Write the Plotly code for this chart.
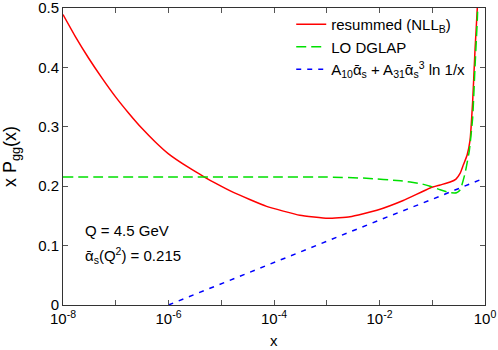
import plotly.graph_objects as go

# log10(x) positions and values
red_logx = [-8, -7.76, -7.51, -7.26, -7, -6.75, -6.5, -6.25, -6, -5.62, -5.31, -5.12,
            -4.77, -4.14, -3.51, -2.98, -2.56, -2.05, -1.55, -1.04, -0.85, -0.66, -0.55,
            -0.47, -0.41, -0.34, -0.284, -0.233, -0.19, -0.146, -0.12]
red_y = [0.489, 0.451, 0.415, 0.382, 0.350, 0.3225, 0.297, 0.2745, 0.2545, 0.2315, 0.215, 0.2055,
         0.1895, 0.166, 0.151, 0.146, 0.1485, 0.1595, 0.176, 0.197, 0.202, 0.207, 0.212,
         0.222, 0.236, 0.252, 0.277, 0.344, 0.428, 0.500, 0.56]

green_logx = [-8, -6, -4, -3, -2.25, -1.6, -1.23, -1.04, -0.85, -0.66, -0.54, -0.47,
              -0.38, -0.297, -0.233, -0.19, -0.146, -0.12]
green_y = [0.2156, 0.2156, 0.2156, 0.2155, 0.2134, 0.209, 0.2045, 0.200, 0.194, 0.189, 0.189,
           0.194, 0.221, 0.260, 0.316, 0.400, 0.480, 0.55]

blue_logx = [-6, -5, -4, -3, -2, -1, 0]
blue_y = [0.0, 0.036, 0.071, 0.107, 0.143, 0.178, 0.214]

xtick_vals = [1e-8, 1e-6, 1e-4, 1e-2, 1]
xtick_text = ['10<sup>-8</sup>', '10<sup>-6</sup>', '10<sup>-4</sup>', '10<sup>-2</sup>', '10<sup>0</sup>']
xminor_vals = [1e-7, 1e-5, 1e-3, 1e-1]
ytick_vals = [0, 0.1, 0.2, 0.3, 0.4, 0.5]

ab = '\u1fb1'  # alpha with macron

fig = go.Figure()
fig.add_trace(go.Scatter(x=[10 ** v for v in red_logx], y=red_y, mode='lines',
                         name='resummed (NLL<sub>B</sub>)',
                         line=dict(color='#ff0000', width=1.5, shape='spline', smoothing=0.4)))
fig.add_trace(go.Scatter(x=[10 ** v for v in green_logx], y=green_y, mode='lines',
                         name='LO DGLAP',
                         line=dict(color='#00e000', width=1.5, dash='10px,5px',
                                   shape='spline', smoothing=0.4)))
fig.add_trace(go.Scatter(x=[10 ** v for v in blue_logx], y=blue_y, mode='lines',
                         name='A<sub>10</sub>' + ab + '<sub>s</sub> + A<sub>31</sub>' + ab
                              + '<sub>s</sub><sup>3</sup> ln 1/x',
                         line=dict(color='#0000ff', width=1.5, dash='5px,6px')))

axis_common = dict(showline=True, linecolor='#333333', linewidth=1, mirror='ticks',
                   ticks='inside', ticklen=5, tickcolor='#555555', showgrid=False,
                   zeroline=False, ticklabeloverflow='allow', automargin=False)

fig.update_layout(
    width=498, height=350,
    margin=dict(l=63, r=13, t=8, b=45, autoexpand=False),
    paper_bgcolor='white', plot_bgcolor='white',
    font=dict(family='Liberation Sans, Arial, sans-serif', size=15, color='black'),
    xaxis=dict(type='log', range=[-8, 0], tickvals=xtick_vals, ticktext=xtick_text,
               minor=dict(tickvals=xminor_vals, ticks='inside', ticklen=5, tickcolor='#555555'),
               **axis_common),
    yaxis=dict(range=[0, 0.5], tickvals=ytick_vals,
               title=dict(text='x P<sub>gg</sub>(x)', standoff=28),
               **axis_common),
    legend=dict(x=0.965, y=1.0, xanchor='right', yanchor='top',
                bgcolor='rgba(0,0,0,0)', tracegroupgap=0),
    annotations=[
        dict(xref='paper', yref='paper', x=0.5, y=-0.12, xanchor='center', yanchor='middle',
             text='x', showarrow=False),
        dict(xref='paper', yref='paper', x=0.048, y=0.252, xanchor='left', yanchor='middle',
             text='Q = 4.5 GeV', showarrow=False),
        dict(xref='paper', yref='paper', x=0.048, y=0.168, xanchor='left', yanchor='middle',
             text=ab + '<sub>s</sub>(Q<sup>2</sup>) = 0.215', showarrow=False),
    ],
)

# the page body has a default 8px margin; drop it so the figure sits at the window corner
fig.write_html("out.html", config={'displayModeBar': False},
               post_script="document.body.style.margin='0px';")
